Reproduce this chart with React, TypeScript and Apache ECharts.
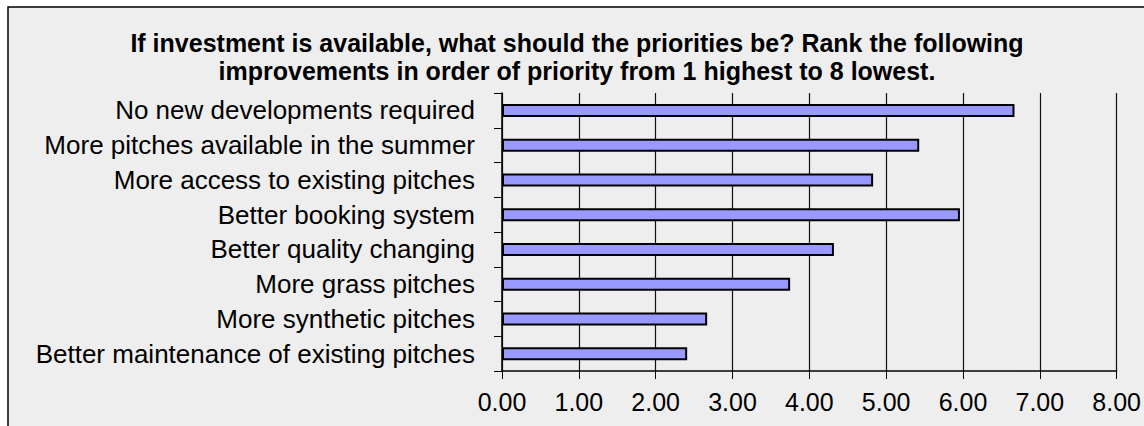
import React, { useEffect, useRef } from "react";
import * as echarts from "echarts";

const categories = [
  "No new developments required",
  "More pitches available in the summer",
  "More access to existing pitches",
  "Better booking system",
  "Better quality changing",
  "More grass pitches",
  "More synthetic pitches",
  "Better maintenance of existing pitches",
];
const values = [6.67, 5.43, 4.83, 5.96, 4.32, 3.75, 2.67, 2.41];
const titleLines = [
  "If investment is available, what should the priorities be? Rank the following",
  "improvements in order of priority from 1 highest to 8 lowest.",
];

export default function App() {
  const ref = useRef<HTMLDivElement>(null);
  useEffect(() => {
    const chart = echarts.init(ref.current!, null, { renderer: "svg" });
    chart.setOption({
      animation: false,
      backgroundColor: "#ffffff",
      graphic: [
        {
          type: "rect",
          z: -10,
          silent: true,
          shape: { x: 8, y: 7, width: 1150, height: 440 },
          style: { fill: "#eeeeee", stroke: "#000000", lineWidth: 1.5 },
        },
      ],
      title: {
        text: titleLines.join("\n"),
        left: 577,
        top: 29,
        textAlign: "center",
        padding: 0,
        textStyle: {
          fontFamily: "Liberation Sans",
          fontWeight: "bold",
          fontSize: 25,
          lineHeight: 28,
          color: "#000",
        },
      },
      grid: { left: 502, right: 25, top: 93, bottom: 55 },
      xAxis: {
        type: "value",
        min: 0,
        max: 8,
        interval: 1,
        axisLine: { show: true, lineStyle: { color: "#000", width: 1.5 } },
        axisTick: { show: true, length: 8, lineStyle: { color: "#000" } },
        axisLabel: {
          formatter: (v: number) => v.toFixed(2),
          fontFamily: "Liberation Sans",
          fontSize: 25,
          color: "#000",
          margin: 18,
        },
        splitLine: { show: true, lineStyle: { color: "#111", width: 1.2 } },
      },
      yAxis: {
        type: "category",
        data: categories,
        inverse: true,
        axisLine: { show: true, lineStyle: { color: "#000", width: 1.5 } },
        axisTick: { show: true, length: 8, lineStyle: { color: "#000" } },
        axisLabel: {
          fontFamily: "Liberation Sans",
          fontSize: 26,
          color: "#000",
          margin: 27,
        },
        splitLine: { show: false },
      },
      series: [
        {
          type: "bar",
          data: values,
          barWidth: 13,
          itemStyle: { color: "#9999ff", borderColor: "#000", borderWidth: 2 },
        },
      ],
    });
    return () => chart.dispose();
  }, []);
  return (
    <div
      ref={ref}
      style={{ position: "fixed", left: 0, top: 0, width: 1144, height: 426 }}
    />
  );
}
